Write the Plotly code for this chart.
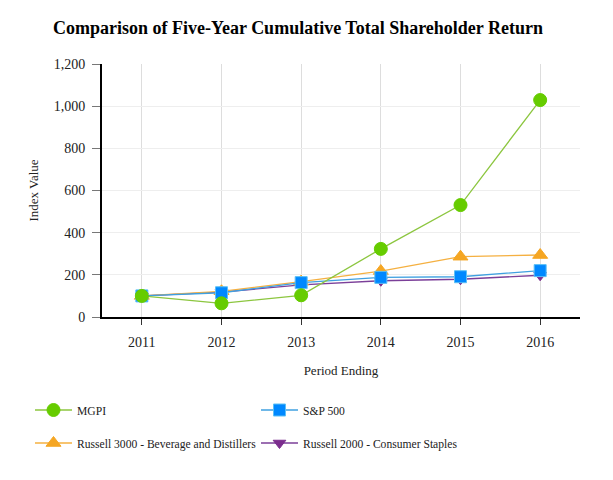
import plotly.graph_objects as go

years = ["2011", "2012", "2013", "2014", "2015", "2016"]
mgpi = [100, 65, 103, 323, 531, 1029]
sp500 = [100, 115, 163, 188, 191, 220]
russell3000_bev = [100, 122, 168, 218, 286, 294]
russell2000_cs = [100, 118, 152, 172, 179, 198]

FONT = "Liberation Serif, Times New Roman, serif"

# (name, values, marker colour, marker border, line colour, symbol, size, legend, rank)
series = [
    ("Russell 2000 - Consumer Staples", russell2000_cs, "#7b2d8e", "#7b2d8e", "#7b3f99", "triangle-down", 11, "legend2", 4),
    ("Russell 3000 - Beverage and Distillers", russell3000_bev, "#f5a623", "#f5a623", "#f5b041", "triangle-up", 13, "legend2", 3),
    ("S&P 500", sp500, "#0088ff", "#5cc0f5", "#3fa0e0", "square", 12, "legend", 2),
    ("MGPI", mgpi, "#66cc00", "#66cc00", "#8cc63f", "circle", 13, "legend", 1),
]

fig = go.Figure()
for name, vals, mcol, bcol, lcol, sym, sz, leg, rank in series:
    fig.add_trace(go.Scatter(
        x=years, y=vals, name=name, mode="lines+markers",
        line=dict(color=lcol, width=1.3),
        marker=dict(symbol=sym, size=sz, color=mcol, line=dict(width=1, color=bcol)),
        legend=leg, legendrank=rank,
    ))

# page body has an 8px margin, so everything is offset by 8px
fig.update_layout(
    width=613, height=480,
    paper_bgcolor="white", plot_bgcolor="white",
    margin=dict(l=94, r=41, t=56, b=171, autoexpand=False),
    font=dict(family=FONT, size=13, color="#222"),
    title=dict(text="<b>Comparison of Five-Year Cumulative Total Shareholder Return</b>",
               x=290 / 613, xanchor="center", xref="container", y=1 - 20 / 480, yanchor="middle",
               font=dict(family=FONT, size=18, color="black")),
    xaxis=dict(type="category", range=[-0.5, 5.5], showline=True, linecolor="black", linewidth=2,
               ticks="outside", ticklen=6, tickcolor="#333", showgrid=True, gridcolor="#dddddd",
               ticklabelstandoff=5,
               title=dict(text="Period Ending", font=dict(size=13), standoff=17),
               tickfont=dict(size=14)),
    yaxis=dict(range=[0, 1200], dtick=200, tickformat=",", showline=True, linecolor="black", linewidth=2,
               ticks="outside", ticklen=8, tickcolor="#777", showgrid=True, gridcolor="#eeeeee",
               zeroline=False, ticklabelstandoff=4,
               title=dict(text="Index Value", font=dict(size=13), standoff=12),
               tickfont=dict(size=14)),
    legend=dict(orientation="h", xref="container", yref="container", x=22 / 613, y=1 - 402 / 480,
                xanchor="left", yanchor="middle", entrywidth=174, entrywidthmode="pixels",
                itemwidth=37, font=dict(size=11.6), bgcolor="rgba(0,0,0,0)"),
    legend2=dict(orientation="h", xref="container", yref="container", x=22 / 613, y=1 - 435 / 480,
                 xanchor="left", yanchor="middle", entrywidth=174, entrywidthmode="pixels",
                 itemwidth=37, font=dict(size=11.6), bgcolor="rgba(0,0,0,0)"),
)

fig.write_html("out.html")
